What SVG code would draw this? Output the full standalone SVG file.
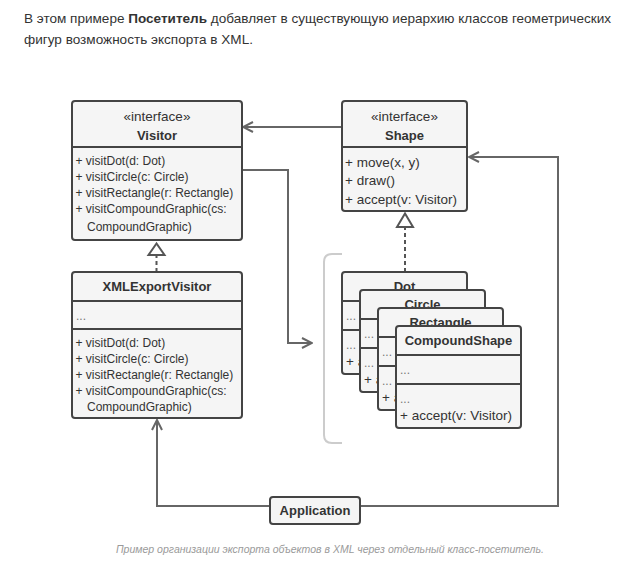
<svg xmlns="http://www.w3.org/2000/svg" width="632" height="579" viewBox="0 0 632 579">
<style>
.bg{fill:#ffffff}
.box{fill:#f5f5f5;stroke:#444444;stroke-width:2}
.sep{stroke:#444444;stroke-width:2;fill:none}
.t{font-family:"Liberation Sans",Arial,sans-serif;font-size:12px;fill:#333333}
.ts{font-family:"Liberation Sans",Arial,sans-serif;font-size:13.5px;fill:#333333}
.st{font-family:"Liberation Sans",Arial,sans-serif;font-size:13.5px;fill:#333333;text-anchor:middle}
.ti{font-family:"Liberation Sans",Arial,sans-serif;font-size:13px;font-weight:bold;fill:#333333;text-anchor:middle}
.dots{font-family:"Liberation Sans",Arial,sans-serif;font-size:12px;fill:#777777}
.con{stroke:#666666;stroke-width:2;fill:none}
.dash{stroke:#555555;stroke-width:2;fill:none;stroke-dasharray:4 3}
.tri{fill:#ffffff;stroke:#555555;stroke-width:2;stroke-linejoin:miter}
.brk{stroke:#cccccc;stroke-width:2;fill:none}
.para{font-family:"Liberation Sans",Arial,sans-serif;font-size:13.5px;fill:#333333}
.cap{font-family:"Liberation Sans",Arial,sans-serif;font-size:11.5px;font-style:italic;fill:#9a9a9a}
</style>
<defs>
<marker id="open" viewBox="0 0 12 12" refX="11" refY="6" markerWidth="12" markerHeight="12" markerUnits="userSpaceOnUse" orient="auto">
<path d="M1,1 L11,6 L1,11" fill="none" stroke="#666666" stroke-width="2"/>
</marker>
</defs>
<rect class="bg" x="0" y="0" width="632" height="579"/>

<g id="intro">
<text class="para" x="24" y="23" textLength="587" lengthAdjust="spacingAndGlyphs">В этом примере <tspan font-weight="bold">Посетитель</tspan> добавляет в существующую иерархию классов геометрических</text>
<text class="para" x="24" y="44" textLength="229" lengthAdjust="spacingAndGlyphs">фигур возможность экспорта в XML.</text>
</g>

<g id="connectors">
<line class="con" x1="342" y1="127" x2="243" y2="127" marker-end="url(#open)"/>
<path class="con" d="M242,170 H288 V343 H312" marker-end="url(#open)"/>
<path class="con" d="M270,506 H157 V420" marker-end="url(#open)"/>
<path class="con" d="M360,506 H558 V157 H469" marker-end="url(#open)"/>
<line class="dash" x1="156.5" y1="272" x2="156.5" y2="255"/>
<polygon class="tri" points="156.5,243.5 148.5,255 164.5,255"/>
<line class="dash" x1="405" y1="272" x2="405" y2="227"/>
<polygon class="tri" points="405,213.5 397,227 413,227"/>
<path class="brk" d="M342,254 H332 Q324,254 324,262 V435 Q324,443 332,443 H342"/>
</g>

<g id="visitor">
<rect class="box" x="72" y="101" width="170" height="139" rx="3"/>
<line class="sep" x1="72" y1="147" x2="242" y2="147"/>
<text class="st" x="157" y="121">«interface»</text>
<text class="ti" x="157" y="140">Visitor</text>
<text class="t" x="75.5" y="165">+ visitDot(d: Dot)</text>
<text class="t" x="75.5" y="181">+ visitCircle(c: Circle)</text>
<text class="t" x="75.5" y="197">+ visitRectangle(r: Rectangle)</text>
<text class="t" x="75.5" y="213">+ visitCompoundGraphic(cs:</text>
<text class="t" x="87" y="231">CompoundGraphic)</text>
</g>

<g id="xmlexportvisitor">
<rect class="box" x="72" y="272" width="170" height="146" rx="3"/>
<line class="sep" x1="72" y1="301" x2="242" y2="301"/>
<line class="sep" x1="72" y1="329" x2="242" y2="329"/>
<text class="ti" x="157" y="291">XMLExportVisitor</text>
<text class="dots" x="76" y="320">...</text>
<text class="t" x="75.5" y="347">+ visitDot(d: Dot)</text>
<text class="t" x="75.5" y="363">+ visitCircle(c: Circle)</text>
<text class="t" x="75.5" y="379">+ visitRectangle(r: Rectangle)</text>
<text class="t" x="75.5" y="395">+ visitCompoundGraphic(cs:</text>
<text class="t" x="87" y="411">CompoundGraphic)</text>
</g>

<g id="shape">
<rect class="box" x="342" y="101" width="125" height="110" rx="3"/>
<line class="sep" x1="342" y1="147" x2="467" y2="147"/>
<text class="st" x="404.5" y="121">«interface»</text>
<text class="ti" x="404.5" y="140">Shape</text>
<text class="ts" x="345" y="167">+ move(x, y)</text>
<text class="ts" x="345" y="185">+ draw()</text>
<text class="ts" x="345" y="204">+ accept(v: Visitor)</text>
</g>

<g id="dot">
<rect class="box" x="342" y="272" width="125" height="102" rx="3"/>
<line class="sep" x1="342" y1="301" x2="467" y2="301"/>
<line class="sep" x1="342" y1="330" x2="467" y2="330"/>
<text class="ti" x="404.5" y="291">Dot</text>
<text class="dots" x="346" y="320">...</text>
<text class="dots" x="346" y="349">...</text>
<text class="ts" x="346" y="366">+ accept(v: Visitor)</text>
</g>

<g id="circle">
<rect class="box" x="360" y="290" width="125" height="102" rx="3"/>
<line class="sep" x1="360" y1="319" x2="485" y2="319"/>
<line class="sep" x1="360" y1="348" x2="485" y2="348"/>
<text class="ti" x="422.5" y="309">Circle</text>
<text class="dots" x="364" y="338">...</text>
<text class="dots" x="364" y="367">...</text>
<text class="ts" x="364" y="384">+ accept(v: Visitor)</text>
</g>

<g id="rectangle">
<rect class="box" x="378" y="308" width="125" height="102" rx="3"/>
<line class="sep" x1="378" y1="337" x2="503" y2="337"/>
<line class="sep" x1="378" y1="366" x2="503" y2="366"/>
<text class="ti" x="440.5" y="327">Rectangle</text>
<text class="dots" x="382" y="356">...</text>
<text class="dots" x="382" y="385">...</text>
<text class="ts" x="382" y="402">+ accept(v: Visitor)</text>
</g>

<g id="compoundshape">
<rect class="box" x="396" y="326" width="125" height="102" rx="3"/>
<line class="sep" x1="396" y1="355" x2="521" y2="355"/>
<line class="sep" x1="396" y1="384" x2="521" y2="384"/>
<text class="ti" x="458.5" y="345" font-size="12.5">CompoundShape</text>
<text class="dots" x="400" y="374">...</text>
<text class="dots" x="400" y="403">...</text>
<text class="ts" x="400" y="420">+ accept(v: Visitor)</text>
</g>

<g id="application">
<rect class="box" x="270" y="497" width="90" height="27" rx="3"/>
<text class="ti" x="315" y="515">Application</text>
</g>

<g id="caption">
<text class="cap" x="116" y="553" textLength="428" lengthAdjust="spacingAndGlyphs">Пример организации экспорта объектов в XML через отдельный класс-посетитель.</text>
</g>
</svg>
